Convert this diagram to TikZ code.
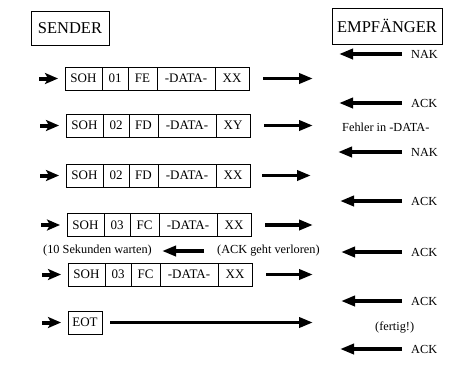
\documentclass[tikz,border=0pt]{standalone}
\usepackage{fontspec}
\setmainfont{Liberation Serif}
\usetikzlibrary{arrows.meta}
\tikzset{
  cell/.style={draw, line width=1pt, outer sep=0pt, minimum height=23pt, inner sep=0pt, anchor=west, font=\fontsize{13}{15}\selectfont},
  hdr/.style={draw, line width=1pt, outer sep=0pt, inner sep=0pt, font=\fontsize{16.5}{19}\selectfont},
  lbl/.style={inner sep=0pt, font=\fontsize{12.3}{14}\selectfont},
  bigarrow/.style={line width=3.5pt, -{Triangle[length=14pt,width=10pt]}},
  sendarrow/.style={line width=4pt, -{Stealth[length=13pt,width=11pt,inset=3pt]}, shorten >=7pt},
}
\newcommand\myrow[6]{% name, x, y, num, chk, last
  \node[cell, minimum width=37pt] (#1a) at (#2,#3) {SOH};
  \node[cell, minimum width=26pt] (#1b) at (#1a.east) {#4};
  \node[cell, minimum width=29pt] (#1c) at (#1b.east) {#5};
  \node[cell, minimum width=58pt] (#1d) at (#1c.east) {-DATA-};
  \node[cell, minimum width=34pt] (#1e) at (#1d.east) {#6};
}
\begin{document}
\begin{tikzpicture}[x=1pt,y=-1pt]
\useasboundingbox[fill=white] (0,0) rectangle (457,368);

% headers
\node[hdr, minimum width=78pt, minimum height=34pt] (sender) at (70,28) {SENDER};
\node[hdr, minimum width=110pt, minimum height=36pt] (empf) at (387,26) {EMPFÄNGER};

% frames
\myrow{r1}{65}{78.5}{01}{FE}{XX}
\myrow{r2}{66}{125.5}{02}{FD}{XY}
\myrow{r3}{66}{175.5}{02}{FD}{XX}
\myrow{r4}{67}{225}{03}{FC}{XX}
\myrow{r5}{68}{274.5}{03}{FC}{XX}
\node[cell, minimum width=34pt] (eot) at (68,322.5) {EOT};

% sender arrowheads
\coordinate (s1) at (39,78.5);
\coordinate (s2) at (40,125.5);
\coordinate (s3) at (40,175.5);
\coordinate (s4) at (41,225);
\coordinate (s5) at (42,274.5);
\coordinate (s6) at (42,322.5);
\draw[sendarrow] (s1) -- (r1a.west);
\draw[sendarrow] (s2) -- (r2a.west);
\draw[sendarrow] (s3) -- (r3a.west);
\draw[sendarrow] (s4) -- (r4a.west);
\draw[sendarrow] (s5) -- (r5a.west);
\draw[sendarrow] (s6) -- (eot.west);

% frame arrows to receiver
\coordinate (t1) at (313,78.5);
\coordinate (t2) at (313,125.5);
\coordinate (t3) at (311,175.5);
\coordinate (t4) at (313,225);
\coordinate (t5) at (313,274.5);
\coordinate (t6) at (313,322.5);
\draw[bigarrow, shorten <=14pt] (r1e.east) -- (t1);
\draw[bigarrow, shorten <=14pt] (r2e.east) -- (t2);
\draw[bigarrow, shorten <=12pt] (r3e.east) -- (t3);
\draw[bigarrow, shorten <=14pt] (r4e.east) -- (t4);
\draw[bigarrow, shorten <=14pt] (r5e.east) -- (t5);
\draw[bigarrow, shorten <=8pt] (eot.east) -- (t6);

% receiver replies
\node[lbl, anchor=west] (m1) at (411,54) {NAK};
\node[lbl, anchor=west] (m2) at (411,103) {ACK};
\node[lbl, anchor=west] (m3) at (411,152) {NAK};
\node[lbl, anchor=west] (m4) at (411,201) {ACK};
\node[lbl, anchor=west] (m5) at (411,252) {ACK};
\node[lbl, anchor=west] (m6) at (411,301) {ACK};
\node[lbl, anchor=west] (m7) at (411,349) {ACK};
\coordinate (m1t) at (339,54);
\coordinate (m2t) at (339,103);
\coordinate (m3t) at (338,152);
\coordinate (m4t) at (340,201);
\coordinate (m5t) at (341,252);
\coordinate (m6t) at (341,301);
\coordinate (m7t) at (340,349);
\draw[bigarrow, shorten <=9pt] (m1.west) -- (m1t);
\draw[bigarrow, shorten <=9pt] (m2.west) -- (m2t);
\draw[bigarrow, shorten <=9pt] (m3.west) -- (m3t);
\draw[bigarrow, shorten <=9pt] (m4.west) -- (m4t);
\draw[bigarrow, shorten <=9pt] (m5.west) -- (m5t);
\draw[bigarrow, shorten <=9pt] (m6.west) -- (m6t);
\draw[bigarrow, shorten <=9pt] (m7.west) -- (m7t);

% comments
\node[lbl, anchor=west] (fehler) at (342,127) {Fehler in -DATA-};
\node[lbl, anchor=west] (fertig) at (375,327) {(fertig!)};
\node[lbl, anchor=west] (warten) at (43,251) {(10 Sekunden warten)};
\node[lbl, anchor=west] (verloren) at (217,251) {(ACK geht verloren)};
\draw[bigarrow, shorten <=13pt, shorten >=10pt] (verloren.west) -- (warten.east);
\end{tikzpicture}
\end{document}
